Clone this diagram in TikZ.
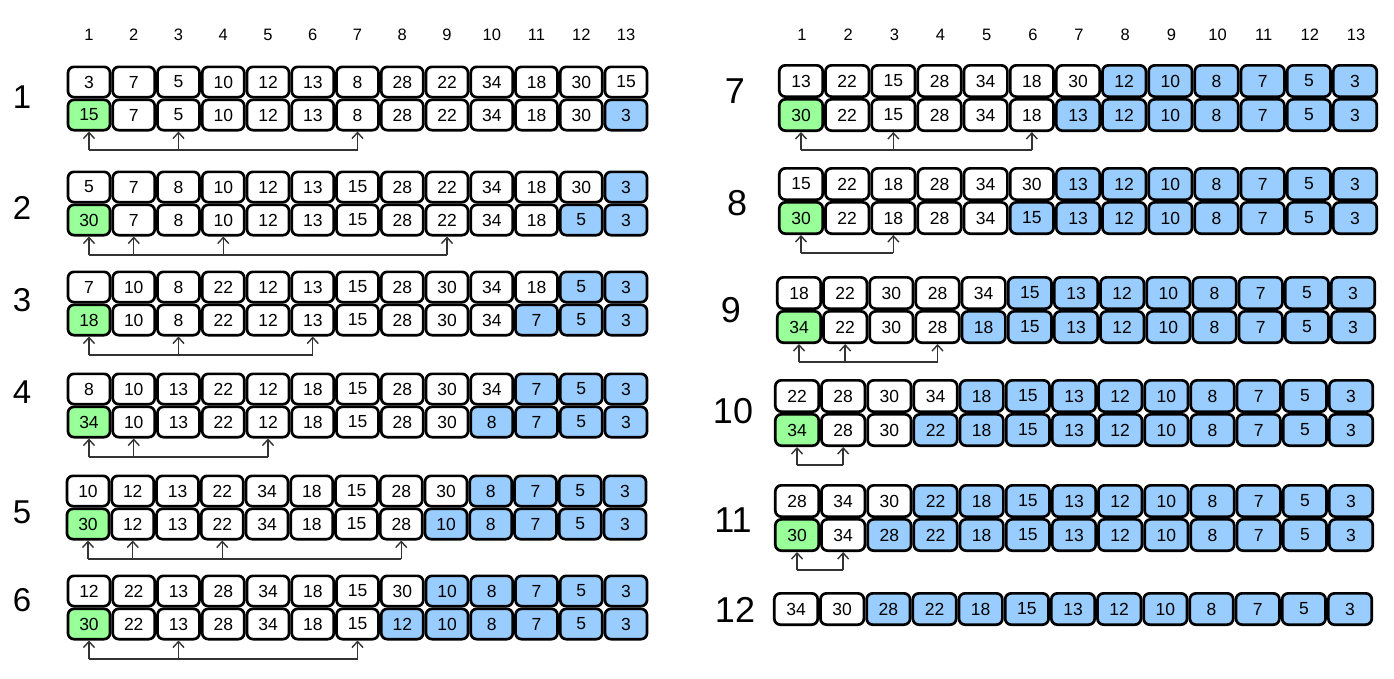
\documentclass[tikz,border=0pt]{standalone}
\usepackage{fontspec}
\setmainfont{Liberation Sans}
\usetikzlibrary{arrows.meta}
\definecolor{cw}{RGB}{255,255,255}
\definecolor{cg}{RGB}{153,255,153}
\definecolor{cb}{RGB}{153,204,255}
\tikzset{
  cell/.style={draw=black,line width=2.7pt,rounded corners=6pt,inner sep=0pt,
    minimum height=30.3pt,font=\fontsize{17.5}{17.5}\selectfont},
  lnk/.style={draw=black!80,line width=1.4pt},
  arr/.style={draw=black!80,line width=1.4pt,-{Straight Barb[length=6pt,width=11pt]}},
  hdr/.style={inner sep=0pt,font=\fontsize{16.5}{16.5}\selectfont},
  lab/.style={inner sep=0pt,font=\fontsize{33}{33}\selectfont},
  labr/.style={inner sep=0pt,font=\fontsize{36}{36}\selectfont},
}
\newcommand\sortpanel[9]{%
  \foreach \v [count=\i] in {#6} {
    \ifnum\i>#8\relax\def\cc{cb}\else\def\cc{cw}\fi
    \node[cell,fill=\cc] (#1t\i) at ({#2+(\i-1)*#3},#4) {\v};
  }
  \foreach \v [count=\i] in {#7} {
    \ifnum\i=1\relax\def\cc{cg}\else\ifnum\i>\numexpr#8-1\relax\def\cc{cb}\else\def\cc{cw}\fi\fi
    \node[cell,fill=\cc] (#1b\i) at ({#2+(\i-1)*#3},#5) {\v};
  }
  \foreach \a in {#9} {
    \coordinate (#1l\a) at ({#2+(\a-1)*#3},{#5+35});
  }
  \foreach \a in {#9} {
    \draw[lnk] (#1l1) -- (#1l\a);
    \draw[arr] (#1l\a) -- (#1b\a.south);
  }
}
\begin{document}
\begin{tikzpicture}[x=1pt,y=-1pt]
\useasboundingbox (0,0) rectangle (1394,678);
% column headers
\foreach \i in {1,...,13} {
  \node[hdr] (hl\i) at ({89+(\i-1)*44.75},35) {\i};
  \node[hdr] (hr\i) at ({802+(\i-1)*46.17},35) {\i};
}
% row labels
\node[lab] (l1) at (22,97) {1};
\node[lab] (l2) at (22,208) {2};
\node[lab] (l3) at (22,300) {3};
\node[lab] (l4) at (22,392) {4};
\node[lab] (l5) at (22,512) {5};
\node[lab] (l6) at (22,600) {6};
\node[labr] (l7) at (735,91) {7};
\node[labr] (l8) at (737,203) {8};
\node[labr] (l9) at (731,310) {9};
\node[labr] (l10) at (733,411) {10};
\node[labr] (l11) at (733,520) {11};
\node[labr] (l12) at (735,610) {12};
% left panels
\begin{scope}[cell/.append style={minimum width=42pt}]
\sortpanel{pa}{89}{44.75}{82}{115}{3,7,5,10,12,13,8,28,22,34,18,30,15}{15,7,5,10,12,13,8,28,22,34,18,30,3}{13}{1,3,7}
\sortpanel{pb}{89}{44.75}{187}{220}{5,7,8,10,12,13,15,28,22,34,18,30,3}{30,7,8,10,12,13,15,28,22,34,18,5,3}{12}{1,2,4,9}
\sortpanel{pc}{89}{44.75}{287}{320}{7,10,8,22,12,13,15,28,30,34,18,5,3}{18,10,8,22,12,13,15,28,30,34,7,5,3}{11}{1,3,6}
\sortpanel{pd}{89}{44.75}{389}{422}{8,10,13,22,12,18,15,28,30,34,7,5,3}{34,10,13,22,12,18,15,28,30,8,7,5,3}{10}{1,2,5}
\sortpanel{pe}{88}{44.75}{491}{524}{10,12,13,22,34,18,15,28,30,8,7,5,3}{30,12,13,22,34,18,15,28,10,8,7,5,3}{9}{1,2,4,8}
\sortpanel{pf}{89}{44.75}{591}{624}{12,22,13,28,34,18,15,30,10,8,7,5,3}{30,22,13,28,34,18,15,12,10,8,7,5,3}{8}{1,3,7}
\end{scope}
% right panels
\begin{scope}[cell/.append style={minimum width=43.4pt,minimum height=31.3pt}]
\sortpanel{pg}{801}{46.17}{81}{115}{13,22,15,28,34,18,30,12,10,8,7,5,3}{30,22,15,28,34,18,13,12,10,8,7,5,3}{7}{1,3,6}
\sortpanel{ph}{801}{46.17}{184}{218}{15,22,18,28,34,30,13,12,10,8,7,5,3}{30,22,18,28,34,15,13,12,10,8,7,5,3}{6}{1,3}
\sortpanel{pi}{799}{46.17}{293}{327}{18,22,30,28,34,15,13,12,10,8,7,5,3}{34,22,30,28,18,15,13,12,10,8,7,5,3}{5}{1,2,4}
\sortpanel{pj}{797}{46.17}{396}{430}{22,28,30,34,18,15,13,12,10,8,7,5,3}{34,28,30,22,18,15,13,12,10,8,7,5,3}{4}{1,2}
\sortpanel{pk}{797}{46.17}{501}{535}{28,34,30,22,18,15,13,12,10,8,7,5,3}{30,34,28,22,18,15,13,12,10,8,7,5,3}{3}{1,2}
\foreach \v [count=\i] in {34,30,28,22,18,15,13,12,10,8,7,5,3} {
  \ifnum\i>2\relax\def\cc{cb}\else\def\cc{cw}\fi
  \node[cell,fill=\cc] (pm\i) at ({796+(\i-1)*46.17},609) {\v};
}
\end{scope}
\end{tikzpicture}
\end{document}
